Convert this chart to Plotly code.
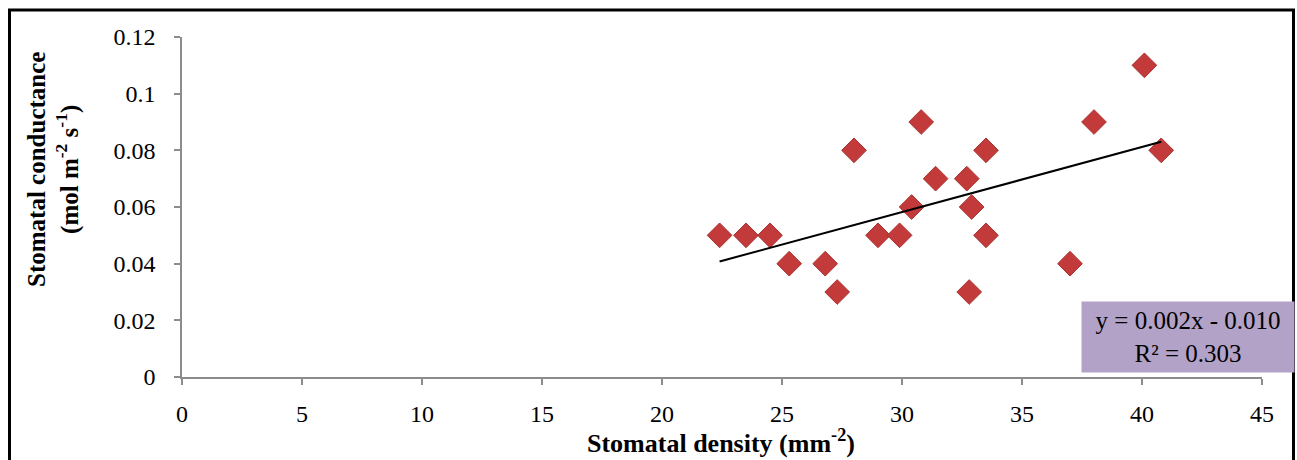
import numpy as np
import plotly.graph_objects as go

# Data
stomatal_density = [22.4, 23.5, 24.5, 25.3, 26.8, 27.3, 28.0, 29.0, 29.9, 30.4, 30.8,
                    31.4, 32.7, 32.9, 32.8, 33.5, 33.5, 37.0, 38.0, 40.1, 40.8]
stomatal_conductance = [0.05, 0.05, 0.05, 0.04, 0.04, 0.03, 0.08, 0.05, 0.05, 0.06, 0.09,
                        0.07, 0.07, 0.06, 0.03, 0.08, 0.05, 0.04, 0.09, 0.11, 0.08]
x_ticks = [0, 5, 10, 15, 20, 25, 30, 35, 40, 45]
y_ticks = [0, 0.02, 0.04, 0.06, 0.08, 0.10, 0.12]
y_ticktext = ["0", "0.02", "0.04", "0.06", "0.08", "0.1", "0.12"]
equation_text = "y = 0.002x - 0.010<br>R² = 0.303"

xs = np.array(stomatal_density)
ys = np.array(stomatal_conductance)
slope, intercept = np.polyfit(xs, ys, 1)
fit_x = np.array([xs.min(), xs.max()])
fit_y = slope * fit_x + intercept

FONT = "Liberation Serif, Times New Roman, serif"

fig = go.Figure()
fig.add_trace(go.Scatter(
    x=stomatal_density, y=stomatal_conductance, mode="markers",
    marker=dict(symbol="diamond", size=19, color="#c23b3a",
                line=dict(color="#a93230", width=1)),
    showlegend=False,
))
fig.add_trace(go.Scatter(
    x=fit_x, y=fit_y, mode="lines",
    line=dict(color="black", width=2), showlegend=False,
))

fig.update_layout(
    width=1297, height=460,
    margin=dict(l=182, r=35, t=37, b=83),
    paper_bgcolor="white", plot_bgcolor="white",
    font=dict(family=FONT, size=24, color="black"),
    xaxis=dict(range=[0, 45], tickvals=x_ticks, showgrid=False, zeroline=False,
               showline=True, linecolor="#8c8c8c", linewidth=1.5,
               ticks="outside", ticklen=6, tickcolor="#8c8c8c", tickwidth=1.5,
               ticklabelstandoff=8, tickfont=dict(size=24)),
    yaxis=dict(range=[0, 0.12], tickvals=y_ticks, ticktext=y_ticktext,
               showgrid=False, zeroline=False,
               showline=True, linecolor="#8c8c8c", linewidth=1.5,
               ticks="outside", ticklen=6, tickcolor="#8c8c8c", tickwidth=1.5,
               ticklabelstandoff=14, tickfont=dict(size=24)),
)

# Outer chart border
fig.add_shape(type="rect", xref="paper", yref="paper",
              x0=(9.5 - 182) / 1080, x1=(1293.5 - 182) / 1080,
              y0=-0.4, y1=(377 - 10) / 340,
              line=dict(color="black", width=3), layer="above")

# Axis titles
fig.add_annotation(xref="paper", yref="paper", x=(721 - 182) / 1080, y=(377 - 441) / 340,
                   text="<b>Stomatal density (mm<sup>-2</sup>)</b>", showarrow=False,
                   font=dict(size=26, family=FONT), xanchor="center", yanchor="middle")
fig.add_annotation(xref="paper", yref="paper", x=(53 - 182) / 1080, y=(377 - 170) / 340,
                   text="<b>Stomatal conductance<br>(mol m<sup>-2</sup> s<sup>-1</sup>)</b>",
                   showarrow=False, textangle=-90,
                   font=dict(size=25, family=FONT), xanchor="center", yanchor="middle")

# Equation box
fig.add_annotation(xref="paper", yref="paper",
                   x=(1081 - 182) / 1080, y=(377 - 301) / 340,
                   xanchor="left", yanchor="top",
                   text=equation_text, showarrow=False, align="center",
                   width=208, height=66, borderpad=2,
                   bgcolor="#b3a2c7", font=dict(size=25, family=FONT))

fig.write_html("out.html")
